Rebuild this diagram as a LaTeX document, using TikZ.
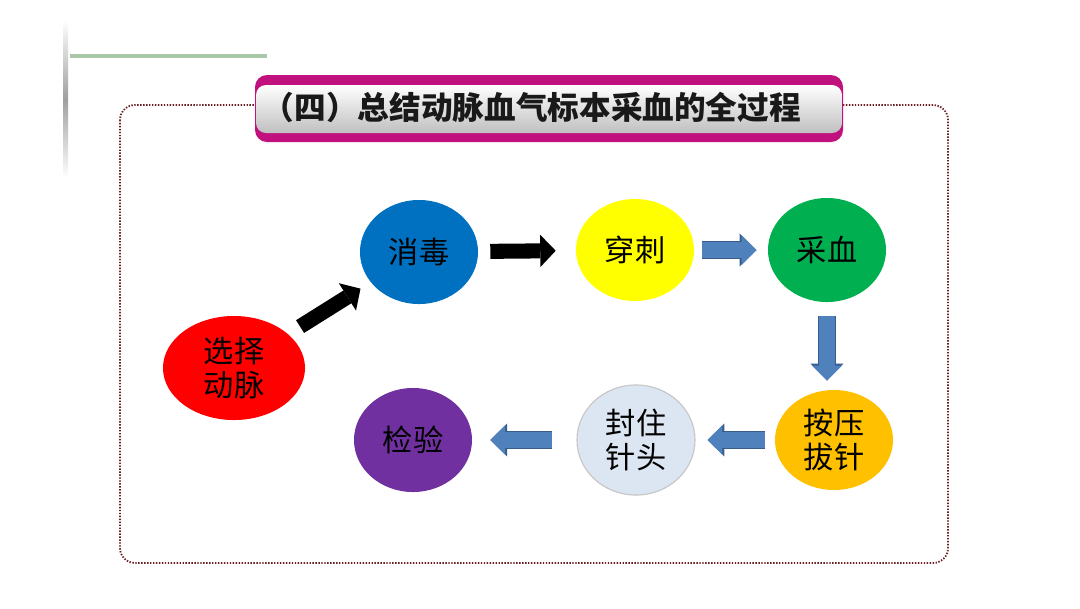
\documentclass[tikz,border=0pt]{standalone}
\usepackage{fontspec}
\newfontfamily\cjk{Noto Sans CJK SC}
\usetikzlibrary{arrows.meta,shapes.geometric}
\definecolor{stepred}{HTML}{FF0000}
\definecolor{stepblue}{HTML}{0070C0}
\definecolor{stepyellow}{HTML}{FFFF00}
\definecolor{stepgreen}{HTML}{00B050}
\definecolor{steporange}{HTML}{FFC000}
\definecolor{steplight}{HTML}{DCE6F2}
\definecolor{steppurple}{HTML}{7030A0}
\definecolor{arrowblue}{HTML}{4F81BD}
\definecolor{arrowedge}{HTML}{385D8A}
\definecolor{titlepink}{HTML}{C0117F}
\definecolor{framered}{HTML}{6B1F24}
\definecolor{linegreen}{HTML}{A9C9A9}
\tikzset{
  every picture/.style={line join=round, >=Stealth},
  stepnode/.style={ellipse, minimum width=2.95cm, minimum height=2.6cm, inner sep=0pt,
    align=center, font=\cjk\fontsize{21.5}{24}\selectfont, text=black},
  blackarrow/.style={line width=10.7pt, -{Triangle[width=23pt,length=11pt,line width=0pt]}},
  bluearrow/.style={draw=arrowblue, line width=11pt, -{Triangle[width=21pt,length=10.5pt,line width=0pt]},
    preaction={draw=arrowedge, line width=12.6pt, -{Triangle[width=23.5pt,length=12pt,line width=0pt]}}},
}
\begin{document}
\begin{tikzpicture}[x=0.025cm,y=-0.025cm]
\useasboundingbox[fill=white](0,0)rectangle(1080,608);
% slide decorations
\shade[top color=white,bottom color=white,middle color=gray!75](63,20)rectangle(68,178);
\draw[linegreen,line width=2.2pt](70,56)--(267,56);
\draw[framered,line width=1.3pt,dash pattern=on 1pt off 1.1pt,rounded corners=0.375cm]
(120,105)rectangle(948,563);
% title banner
\fill[titlepink,rounded corners=0.3cm](255,75)rectangle(843,142);
\shade[top color=white,bottom color=gray!50,rounded corners=0.25cm](256,85)rectangle(842,133);
\node[anchor=west,font=\cjk\bfseries\fontsize{22.5}{27}\selectfont,text=black!90](title)at(258,107)
{（四）总结动脉血气标本采血的全过程};
% steps
\node[stepnode,fill=stepred,minimum width=3.55cm](choose)at(234,368){选择\\动脉};
\node[stepnode,fill=stepblue](disinfect)at(419,252){消毒};
\node[stepnode,fill=stepyellow,minimum height=2.55cm](puncture)at(635,250){穿刺};
\node[stepnode,fill=stepgreen](collect)at(827,250){采血};
\node[stepnode,fill=steporange,minimum height=2.5cm](press)at(834,440){按压\\拔针};
\node[stepnode,fill=steplight,draw=gray!45,line width=0.8pt,minimum height=2.75cm](seal)at(636,440){封住\\针头};
\node[stepnode,fill=steppurple](test)at(413,440){检验};
% arrows
\draw[blackarrow,shorten <=0.35cm,shorten >=0.3cm](choose)--(disinfect);
\draw[blackarrow,shorten <=0.3cm,shorten >=0.5cm](disinfect)--(puncture);
\draw[bluearrow,shorten <=0.18cm,shorten >=0.28cm](puncture)--(collect);
\draw[bluearrow,shorten <=0.33cm,shorten >=0.23cm](collect)--(collect|-press.north);
\draw[bluearrow,shorten <=0.25cm,shorten >=0.3cm](press)--(seal);
\draw[bluearrow,shorten <=0.6cm,shorten >=0.45cm](seal)--(test);
\end{tikzpicture}
\end{document}
